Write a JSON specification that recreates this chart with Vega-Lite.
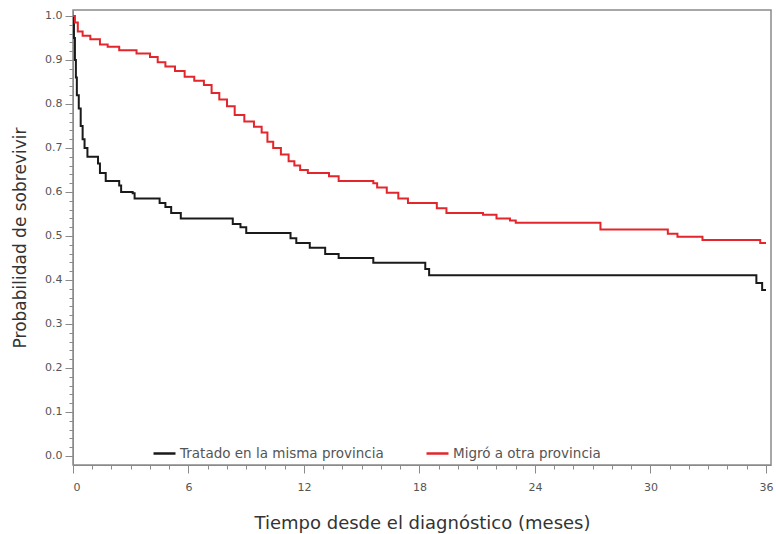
{
  "$schema": "https://vega.github.io/schema/vega-lite/v6.json",
  "width": 698,
  "height": 455,
  "autosize": "none",
  "padding": {"left": 73, "top": 10, "right": 5, "bottom": 69},
  "background": "white",
  "config": {
    "font": "DejaVu Sans",
    "view": {"stroke": "#8a8a8a", "strokeWidth": 1.5},
    "axis": {"grid": false, "domainColor": "#8a8a8a", "tickColor": "#8a8a8a", "labelColor": "#555555", "labelFontSize": 11, "titleColor": "#333333", "titleFontWeight": "normal", "labelOverlap": false}
  },
  "data": {
    "values": [
      {"grupo": "Tratado en la misma provincia", "t": 0, "S": 1.0},
      {"grupo": "Tratado en la misma provincia", "t": 0.05, "S": 0.95},
      {"grupo": "Tratado en la misma provincia", "t": 0.1, "S": 0.9},
      {"grupo": "Tratado en la misma provincia", "t": 0.15, "S": 0.86},
      {"grupo": "Tratado en la misma provincia", "t": 0.2, "S": 0.82},
      {"grupo": "Tratado en la misma provincia", "t": 0.3, "S": 0.79},
      {"grupo": "Tratado en la misma provincia", "t": 0.4, "S": 0.75},
      {"grupo": "Tratado en la misma provincia", "t": 0.5, "S": 0.72},
      {"grupo": "Tratado en la misma provincia", "t": 0.6, "S": 0.70},
      {"grupo": "Tratado en la misma provincia", "t": 0.75, "S": 0.68},
      {"grupo": "Tratado en la misma provincia", "t": 1.3, "S": 0.665},
      {"grupo": "Tratado en la misma provincia", "t": 1.4, "S": 0.643},
      {"grupo": "Tratado en la misma provincia", "t": 1.7, "S": 0.625},
      {"grupo": "Tratado en la misma provincia", "t": 2.4, "S": 0.615},
      {"grupo": "Tratado en la misma provincia", "t": 2.5, "S": 0.6},
      {"grupo": "Tratado en la misma provincia", "t": 3.1, "S": 0.597},
      {"grupo": "Tratado en la misma provincia", "t": 3.2, "S": 0.585},
      {"grupo": "Tratado en la misma provincia", "t": 4.5, "S": 0.575},
      {"grupo": "Tratado en la misma provincia", "t": 4.8, "S": 0.566},
      {"grupo": "Tratado en la misma provincia", "t": 5.1, "S": 0.552},
      {"grupo": "Tratado en la misma provincia", "t": 5.6, "S": 0.54},
      {"grupo": "Tratado en la misma provincia", "t": 8.3, "S": 0.527},
      {"grupo": "Tratado en la misma provincia", "t": 8.7, "S": 0.52},
      {"grupo": "Tratado en la misma provincia", "t": 9.0, "S": 0.507},
      {"grupo": "Tratado en la misma provincia", "t": 11.3, "S": 0.495},
      {"grupo": "Tratado en la misma provincia", "t": 11.6, "S": 0.484},
      {"grupo": "Tratado en la misma provincia", "t": 12.3, "S": 0.473},
      {"grupo": "Tratado en la misma provincia", "t": 13.1, "S": 0.459},
      {"grupo": "Tratado en la misma provincia", "t": 13.8, "S": 0.45},
      {"grupo": "Tratado en la misma provincia", "t": 15.6, "S": 0.439},
      {"grupo": "Tratado en la misma provincia", "t": 18.3, "S": 0.425},
      {"grupo": "Tratado en la misma provincia", "t": 18.5, "S": 0.411},
      {"grupo": "Tratado en la misma provincia", "t": 35.5, "S": 0.393},
      {"grupo": "Tratado en la misma provincia", "t": 35.8, "S": 0.377},
      {"grupo": "Tratado en la misma provincia", "t": 36.0, "S": 0.377},
      {"grupo": "Migró a otra provincia", "t": 0, "S": 1.0},
      {"grupo": "Migró a otra provincia", "t": 0.1, "S": 0.985},
      {"grupo": "Migró a otra provincia", "t": 0.25, "S": 0.965},
      {"grupo": "Migró a otra provincia", "t": 0.5, "S": 0.955},
      {"grupo": "Migró a otra provincia", "t": 0.9, "S": 0.947},
      {"grupo": "Migró a otra provincia", "t": 1.4, "S": 0.935},
      {"grupo": "Migró a otra provincia", "t": 1.8, "S": 0.93},
      {"grupo": "Migró a otra provincia", "t": 2.4, "S": 0.922},
      {"grupo": "Migró a otra provincia", "t": 3.3, "S": 0.915},
      {"grupo": "Migró a otra provincia", "t": 4.0, "S": 0.907},
      {"grupo": "Migró a otra provincia", "t": 4.4, "S": 0.895},
      {"grupo": "Migró a otra provincia", "t": 4.8, "S": 0.885},
      {"grupo": "Migró a otra provincia", "t": 5.3, "S": 0.875},
      {"grupo": "Migró a otra provincia", "t": 5.8, "S": 0.862},
      {"grupo": "Migró a otra provincia", "t": 6.3, "S": 0.853},
      {"grupo": "Migró a otra provincia", "t": 6.8, "S": 0.843},
      {"grupo": "Migró a otra provincia", "t": 7.2, "S": 0.825},
      {"grupo": "Migró a otra provincia", "t": 7.6, "S": 0.81},
      {"grupo": "Migró a otra provincia", "t": 8.0, "S": 0.795},
      {"grupo": "Migró a otra provincia", "t": 8.4, "S": 0.775},
      {"grupo": "Migró a otra provincia", "t": 8.9, "S": 0.76},
      {"grupo": "Migró a otra provincia", "t": 9.4, "S": 0.748},
      {"grupo": "Migró a otra provincia", "t": 9.8, "S": 0.735},
      {"grupo": "Migró a otra provincia", "t": 10.1, "S": 0.714},
      {"grupo": "Migró a otra provincia", "t": 10.4, "S": 0.70},
      {"grupo": "Migró a otra provincia", "t": 10.8, "S": 0.685},
      {"grupo": "Migró a otra provincia", "t": 11.2, "S": 0.67},
      {"grupo": "Migró a otra provincia", "t": 11.5, "S": 0.66},
      {"grupo": "Migró a otra provincia", "t": 11.8, "S": 0.65},
      {"grupo": "Migró a otra provincia", "t": 12.2, "S": 0.643},
      {"grupo": "Migró a otra provincia", "t": 13.3, "S": 0.636},
      {"grupo": "Migró a otra provincia", "t": 13.8, "S": 0.625},
      {"grupo": "Migró a otra provincia", "t": 15.6, "S": 0.62},
      {"grupo": "Migró a otra provincia", "t": 15.8, "S": 0.61},
      {"grupo": "Migró a otra provincia", "t": 16.3, "S": 0.598},
      {"grupo": "Migró a otra provincia", "t": 16.9, "S": 0.585},
      {"grupo": "Migró a otra provincia", "t": 17.4, "S": 0.575},
      {"grupo": "Migró a otra provincia", "t": 18.9, "S": 0.563},
      {"grupo": "Migró a otra provincia", "t": 19.4, "S": 0.552},
      {"grupo": "Migró a otra provincia", "t": 21.3, "S": 0.548},
      {"grupo": "Migró a otra provincia", "t": 22.0, "S": 0.54},
      {"grupo": "Migró a otra provincia", "t": 22.7, "S": 0.535},
      {"grupo": "Migró a otra provincia", "t": 23.0, "S": 0.53},
      {"grupo": "Migró a otra provincia", "t": 27.4, "S": 0.515},
      {"grupo": "Migró a otra provincia", "t": 30.9, "S": 0.505},
      {"grupo": "Migró a otra provincia", "t": 31.4, "S": 0.498},
      {"grupo": "Migró a otra provincia", "t": 32.7, "S": 0.491},
      {"grupo": "Migró a otra provincia", "t": 35.7, "S": 0.484},
      {"grupo": "Migró a otra provincia", "t": 36.0, "S": 0.484}
    ]
  },
  "mark": {"type": "line", "interpolate": "step-after", "strokeWidth": 2},
  "encoding": {
    "x": {
      "field": "t", "type": "quantitative",
      "scale": {"domain": [0, 36.26], "nice": false, "zero": false},
      "axis": {
        "title": "Tiempo desde el diagnóstico (meses)",
        "titleFontSize": 18, "titlePadding": 22,
        "values": [0,1,2,3,4,5,6,7,8,9,10,11,12,13,14,15,16,17,18,19,20,21,22,23,24,25,26,27,28,29,30,31,32,33,34,35,36],
        "labelExpr": "datum.value % 6 === 0 ? datum.label : ''",
        "tickSize": {"condition": {"test": "datum.value % 6 === 0", "value": 8}, "value": 4},
        "labelPadding": 8
      }
    },
    "y": {
      "field": "S", "type": "quantitative",
      "scale": {"domain": [-0.0205, 1.0136], "nice": false, "zero": false},
      "axis": {
        "title": "Probabilidad de sobrevivir",
        "titleFontSize": 17, "titlePadding": 15,
        "values": [0,0.02,0.04,0.06,0.08,0.1,0.12,0.14,0.16,0.18,0.2,0.22,0.24,0.26,0.28,0.3,0.32,0.34,0.36,0.38,0.4,0.42,0.44,0.46,0.48,0.5,0.52,0.54,0.56,0.58,0.6,0.62,0.64,0.66,0.68,0.7,0.72,0.74,0.76,0.78,0.8,0.82,0.84,0.86,0.88,0.9,0.92,0.94,0.96,0.98,1.0],
        "labelExpr": "abs(datum.value*10 - round(datum.value*10)) < 0.000001 ? format(datum.value, '.1f') : ''",
        "tickSize": {"condition": {"test": "abs(datum.value*10 - round(datum.value*10)) < 0.000001", "value": 8}, "value": 4},
        "labelPadding": 3
      }
    },
    "color": {
      "field": "grupo", "type": "nominal",
      "scale": {"domain": ["Tratado en la misma provincia", "Migró a otra provincia"], "range": ["#1a1a1a", "#e3262b"]},
      "legend": {
        "title": null, "orient": "none", "direction": "horizontal",
        "legendX": 79, "legendY": 431,
        "symbolType": "stroke", "symbolSize": 484, "symbolStrokeWidth": 2.5,
        "labelFontSize": 13.5, "labelColor": "#555555", "labelOffset": 3, "labelLimit": 0,
        "columnPadding": 37
      }
    }
  }
}
